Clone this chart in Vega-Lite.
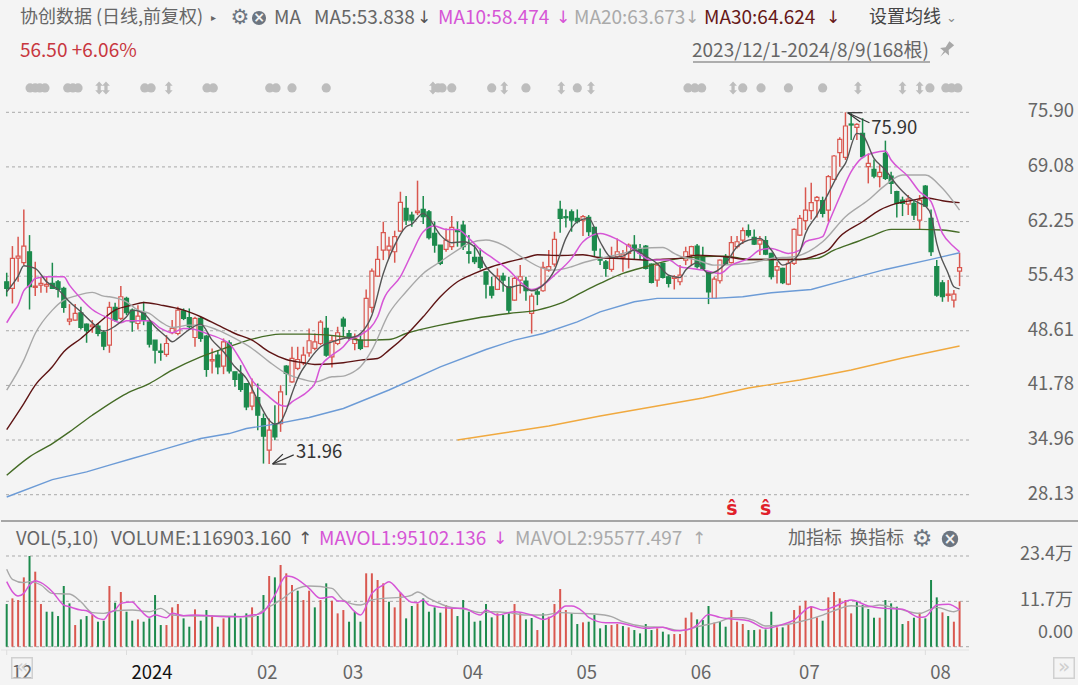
{
"$schema":"https://vega.github.io/schema/vega-lite/v6.json",
"padding":0,"background":"#f4f4f4","spacing":0,"bounds":"flush",
"config":{"view":{"stroke":null},"text":{"font":"Noto Sans CJK SC"}},
"datasets":{
"candles":[
{"i":0,"o":54.73,"h":55.86,"l":52.9,"c":53.9,"dir":"down"},{"i":1,"o":53.9,"h":59.19,"l":52.02,"c":57.65,"dir":"up"},{"i":2,"o":57.69,"h":60.36,"l":54.73,"c":57.94,"dir":"up"},{"i":3,"o":57.11,"h":63.77,"l":56.81,"c":59.19,"dir":"up"},{"i":4,"o":58.48,"h":60.56,"l":51.27,"c":54.11,"dir":"down"},{"i":5,"o":54.02,"h":57.23,"l":52.94,"c":54.19,"dir":"up"},{"i":6,"o":54.32,"h":55.36,"l":53.36,"c":54.52,"dir":"up"},{"i":7,"o":54.19,"h":55.36,"l":53.36,"c":54.4,"dir":"up"},{"i":8,"o":54.52,"h":57.11,"l":53.9,"c":53.9,"dir":"down"},{"i":9,"o":54.73,"h":54.94,"l":52.77,"c":53.77,"dir":"down"},
{"i":10,"o":53.9,"h":54.11,"l":50.86,"c":51.52,"dir":"down"},{"i":11,"o":49.81,"h":51.94,"l":49.31,"c":50.06,"dir":"up"},{"i":12,"o":49.94,"h":51.94,"l":49.86,"c":50.77,"dir":"up"},{"i":13,"o":50.86,"h":51.61,"l":48.77,"c":49.02,"dir":"down"},{"i":14,"o":49.44,"h":49.52,"l":47.11,"c":48.61,"dir":"down"},{"i":15,"o":49.11,"h":49.94,"l":48.36,"c":49.31,"dir":"up"},{"i":16,"o":49.19,"h":49.52,"l":47.94,"c":48.27,"dir":"down"},{"i":17,"o":48.4,"h":48.69,"l":46.19,"c":46.69,"dir":"down"},{"i":18,"o":46.81,"h":52.23,"l":45.86,"c":51.52,"dir":"up"},{"i":19,"o":51.52,"h":52.11,"l":49.73,"c":49.94,"dir":"down"},
{"i":20,"o":50.15,"h":54.19,"l":49.94,"c":52.86,"dir":"up"},{"i":21,"o":52.65,"h":52.86,"l":50.56,"c":50.86,"dir":"down"},{"i":22,"o":51.19,"h":51.4,"l":48.48,"c":49.73,"dir":"down"},{"i":23,"o":49.52,"h":51.81,"l":48.77,"c":50.44,"dir":"up"},{"i":24,"o":50.86,"h":52.23,"l":49.31,"c":50.02,"dir":"down"},{"i":25,"o":49.73,"h":49.94,"l":46.52,"c":46.94,"dir":"down"},{"i":26,"o":47.44,"h":47.44,"l":44.52,"c":46.19,"dir":"down"},{"i":27,"o":46.06,"h":47.02,"l":44.86,"c":45.9,"dir":"down"},{"i":28,"o":45.65,"h":48.07,"l":45.36,"c":47.02,"dir":"up"},{"i":29,"o":48.36,"h":49.94,"l":48.19,"c":48.9,"dir":"up"},
{"i":30,"o":48.27,"h":51.61,"l":48.06,"c":51.19,"dir":"up"},{"i":31,"o":51.11,"h":51.4,"l":49.94,"c":50.15,"dir":"down"},{"i":32,"o":50.27,"h":51.4,"l":48.69,"c":49.11,"dir":"down"},{"i":33,"o":47.77,"h":50.36,"l":46.61,"c":50.15,"dir":"up"},{"i":34,"o":50.15,"h":50.36,"l":47.23,"c":47.65,"dir":"down"},{"i":35,"o":47.94,"h":48.07,"l":42.86,"c":43.77,"dir":"down"},{"i":36,"o":44.86,"h":46.4,"l":43.27,"c":45.02,"dir":"up"},{"i":37,"o":45.56,"h":46.19,"l":43.19,"c":44.11,"dir":"down"},{"i":38,"o":44.19,"h":47.65,"l":43.19,"c":47.23,"dir":"up"},{"i":39,"o":47.11,"h":47.44,"l":43.27,"c":43.61,"dir":"down"},
{"i":40,"o":43.48,"h":43.48,"l":41.61,"c":42.52,"dir":"down"},{"i":41,"o":43.19,"h":44.31,"l":40.98,"c":41.27,"dir":"down"},{"i":42,"o":42.02,"h":42.02,"l":38.69,"c":39.11,"dir":"down"},{"i":43,"o":39.19,"h":42.65,"l":38.69,"c":40.86,"dir":"up"},{"i":44,"o":40.27,"h":42.02,"l":36.19,"c":38.06,"dir":"down"},{"i":45,"o":37.65,"h":38.27,"l":32.02,"c":35.44,"dir":"down"},{"i":46,"o":33.69,"h":37.65,"l":31.96,"c":36.19,"dir":"up"},{"i":47,"o":36.94,"h":39.31,"l":34.94,"c":35.36,"dir":"down"},{"i":48,"o":37.02,"h":41.81,"l":35.98,"c":40.98,"dir":"up"},{"i":49,"o":44.19,"h":44.31,"l":40.56,"c":43.27,"dir":"down"},
{"i":50,"o":42.23,"h":46.61,"l":42.11,"c":45.15,"dir":"up"},{"i":51,"o":43.9,"h":46.61,"l":43.69,"c":45.02,"dir":"up"},{"i":52,"o":44.61,"h":46.61,"l":44.31,"c":45.56,"dir":"up"},{"i":53,"o":45.86,"h":48.9,"l":45.36,"c":47.36,"dir":"up"},{"i":54,"o":46.4,"h":48.27,"l":46.19,"c":47.23,"dir":"up"},{"i":55,"o":47.02,"h":49.94,"l":46.81,"c":49.69,"dir":"up"},{"i":56,"o":48.9,"h":50.44,"l":45.36,"c":45.56,"dir":"down"},{"i":57,"o":45.36,"h":48.06,"l":44.02,"c":47.36,"dir":"up"},{"i":58,"o":47.02,"h":49.11,"l":46.81,"c":48.36,"dir":"up"},{"i":59,"o":50.06,"h":50.36,"l":47.86,"c":49.19,"dir":"down"},
{"i":60,"o":48.27,"h":48.69,"l":47.44,"c":47.86,"dir":"down"},{"i":61,"o":47.02,"h":48.27,"l":46.19,"c":47.65,"dir":"up"},{"i":62,"o":47.44,"h":48.27,"l":46.19,"c":46.4,"dir":"down"},{"i":63,"o":46.61,"h":53.77,"l":46.61,"c":52.65,"dir":"up"},{"i":64,"o":51.52,"h":56.4,"l":50.86,"c":56.06,"dir":"up"},{"i":65,"o":55.44,"h":59.19,"l":55.36,"c":57.52,"dir":"up"},{"i":66,"o":58.69,"h":62.23,"l":57.44,"c":60.86,"dir":"up"},{"i":67,"o":58.69,"h":60.36,"l":57.65,"c":59.19,"dir":"up"},{"i":68,"o":58.48,"h":61.11,"l":57.11,"c":60.36,"dir":"up"},{"i":69,"o":61.06,"h":65.98,"l":60.98,"c":64.65,"dir":"up"},
{"i":70,"o":63.9,"h":65.44,"l":61.81,"c":62.44,"dir":"down"},{"i":71,"o":63.06,"h":63.48,"l":61.61,"c":62.44,"dir":"down"},{"i":72,"o":63.36,"h":67.36,"l":63.06,"c":63.56,"dir":"up"},{"i":73,"o":63.77,"h":65.44,"l":61.94,"c":62.86,"dir":"down"},{"i":74,"o":63.48,"h":63.69,"l":60.02,"c":60.23,"dir":"down"},{"i":75,"o":60.77,"h":62.23,"l":58.36,"c":59.31,"dir":"down"},{"i":76,"o":59.31,"h":59.31,"l":56.81,"c":57.02,"dir":"down"},{"i":77,"o":58.77,"h":61.4,"l":58.48,"c":59.94,"dir":"up"},{"i":78,"o":59.11,"h":62.94,"l":58.69,"c":61.52,"dir":"up"},{"i":79,"o":61.19,"h":62.23,"l":59.11,"c":60.98,"dir":"down"},
{"i":80,"o":61.81,"h":62.36,"l":58.69,"c":59.11,"dir":"down"},{"i":81,"o":58.48,"h":60.56,"l":57.02,"c":58.27,"dir":"down"},{"i":82,"o":57.77,"h":59.31,"l":56.94,"c":57.23,"dir":"down"},{"i":83,"o":57.77,"h":58.9,"l":56.27,"c":56.52,"dir":"down"},{"i":84,"o":55.98,"h":55.98,"l":52.65,"c":54.44,"dir":"down"},{"i":85,"o":54.11,"h":55.36,"l":52.65,"c":53.06,"dir":"down"},{"i":86,"o":53.77,"h":56.4,"l":53.69,"c":55.44,"dir":"up"},{"i":87,"o":55.44,"h":55.86,"l":53.48,"c":54.94,"dir":"down"},{"i":88,"o":54.11,"h":55.36,"l":50.77,"c":51.19,"dir":"down"},{"i":89,"o":52.44,"h":55.36,"l":52.36,"c":55.15,"dir":"up"},
{"i":90,"o":54.94,"h":56.81,"l":53.27,"c":55.36,"dir":"up"},{"i":91,"o":54.81,"h":55.36,"l":52.36,"c":53.61,"dir":"down"},{"i":92,"o":50.77,"h":53.27,"l":48.27,"c":52.94,"dir":"up"},{"i":93,"o":53.48,"h":53.77,"l":51.81,"c":53.19,"dir":"down"},{"i":94,"o":53.61,"h":57.23,"l":53.48,"c":56.52,"dir":"up"},{"i":95,"o":56.19,"h":58.69,"l":55.98,"c":56.61,"dir":"up"},{"i":96,"o":56.94,"h":60.98,"l":56.61,"c":60.02,"dir":"up"},{"i":97,"o":63.77,"h":64.86,"l":60.86,"c":62.65,"dir":"down"},{"i":98,"o":62.86,"h":63.77,"l":61.52,"c":62.73,"dir":"down"},{"i":99,"o":63.48,"h":63.77,"l":60.98,"c":62.44,"dir":"down"},
{"i":100,"o":62.65,"h":63.77,"l":62.02,"c":62.23,"dir":"down"},{"i":101,"o":62.44,"h":63.06,"l":60.44,"c":62.86,"dir":"up"},{"i":102,"o":62.77,"h":63.06,"l":60.44,"c":60.98,"dir":"down"},{"i":103,"o":61.52,"h":61.61,"l":57.94,"c":58.69,"dir":"down"},{"i":104,"o":57.77,"h":58.9,"l":56.81,"c":57.44,"dir":"down"},{"i":105,"o":57.23,"h":57.44,"l":55.36,"c":56.4,"dir":"down"},{"i":106,"o":56.27,"h":59.11,"l":55.98,"c":57.77,"dir":"up"},{"i":107,"o":57.86,"h":60.15,"l":57.65,"c":58.48,"dir":"up"},{"i":108,"o":57.77,"h":58.69,"l":55.98,"c":58.19,"dir":"up"},{"i":109,"o":58.27,"h":59.52,"l":56.4,"c":59.31,"dir":"up"},
{"i":110,"o":59.31,"h":60.56,"l":57.52,"c":58.69,"dir":"down"},{"i":111,"o":58.77,"h":59.44,"l":57.44,"c":58.27,"dir":"down"},{"i":112,"o":59.19,"h":59.31,"l":56.27,"c":56.4,"dir":"down"},{"i":113,"o":56.94,"h":57.02,"l":54.52,"c":54.65,"dir":"down"},{"i":114,"o":54.94,"h":57.11,"l":54.11,"c":56.81,"dir":"up"},{"i":115,"o":57.02,"h":57.11,"l":55.15,"c":55.27,"dir":"down"},{"i":116,"o":55.36,"h":55.56,"l":54.02,"c":54.52,"dir":"down"},{"i":117,"o":55.15,"h":55.56,"l":53.77,"c":55.36,"dir":"up"},{"i":118,"o":54.73,"h":56.81,"l":54.31,"c":55.56,"dir":"up"},{"i":119,"o":57.44,"h":59.11,"l":56.81,"c":58.48,"dir":"up"},
{"i":120,"o":58.06,"h":59.23,"l":56.69,"c":59.11,"dir":"up"},{"i":121,"o":59.19,"h":59.44,"l":56.4,"c":56.61,"dir":"down"},{"i":122,"o":57.86,"h":59.11,"l":56.19,"c":56.4,"dir":"down"},{"i":123,"o":55.98,"h":55.98,"l":51.94,"c":53.48,"dir":"down"},{"i":124,"o":52.65,"h":55.36,"l":52.65,"c":55.06,"dir":"up"},{"i":125,"o":54.86,"h":57.52,"l":54.52,"c":57.44,"dir":"up"},{"i":126,"o":57.86,"h":58.19,"l":56.94,"c":56.94,"dir":"down"},{"i":127,"o":57.11,"h":60.44,"l":57.02,"c":59.61,"dir":"up"},{"i":128,"o":59.11,"h":60.44,"l":58.9,"c":59.73,"dir":"up"},{"i":129,"o":59.94,"h":61.52,"l":59.44,"c":61.11,"dir":"up"},
{"i":130,"o":61.11,"h":61.9,"l":60.27,"c":60.56,"dir":"down"},{"i":131,"o":60.27,"h":61.27,"l":59.31,"c":59.44,"dir":"down"},{"i":132,"o":59.44,"h":60.44,"l":58.06,"c":59.94,"dir":"up"},{"i":133,"o":59.86,"h":60.44,"l":58.06,"c":58.19,"dir":"down"},{"i":134,"o":58.27,"h":58.36,"l":55.02,"c":55.36,"dir":"down"},{"i":135,"o":56.19,"h":57.23,"l":54.52,"c":56.61,"dir":"up"},{"i":136,"o":56.4,"h":56.48,"l":54.44,"c":54.61,"dir":"down"},{"i":137,"o":54.44,"h":57.44,"l":54.31,"c":57.02,"dir":"up"},{"i":138,"o":57.02,"h":61.4,"l":56.81,"c":61.27,"dir":"up"},{"i":139,"o":60.56,"h":63.06,"l":60.44,"c":62.65,"dir":"up"},
{"i":140,"o":62.36,"h":66.52,"l":61.19,"c":63.69,"dir":"up"},{"i":141,"o":63.61,"h":67.11,"l":62.52,"c":64.61,"dir":"up"},{"i":142,"o":64.86,"h":65.44,"l":62.77,"c":65.27,"dir":"up"},{"i":143,"o":64.86,"h":65.36,"l":62.77,"c":63.27,"dir":"down"},{"i":144,"o":63.69,"h":68.06,"l":62.23,"c":67.86,"dir":"up"},{"i":145,"o":67.52,"h":70.56,"l":67.44,"c":70.44,"dir":"up"},{"i":146,"o":70.86,"h":72.77,"l":69.11,"c":72.52,"dir":"up"},{"i":147,"o":70.27,"h":75.9,"l":69.94,"c":74.19,"dir":"up"},{"i":148,"o":74.44,"h":75.77,"l":72.44,"c":74.31,"dir":"down"},{"i":149,"o":74.02,"h":74.52,"l":72.44,"c":74.4,"dir":"up"},
{"i":150,"o":73.27,"h":75.15,"l":70.15,"c":70.36,"dir":"down"},{"i":151,"o":69.11,"h":70.77,"l":67.02,"c":69.52,"dir":"up"},{"i":152,"o":68.77,"h":70.02,"l":67.65,"c":67.94,"dir":"down"},{"i":153,"o":67.86,"h":69.31,"l":66.52,"c":68.4,"dir":"up"},{"i":154,"o":70.77,"h":72.36,"l":67.44,"c":67.65,"dir":"down"},{"i":155,"o":67.94,"h":68.48,"l":65.69,"c":67.02,"dir":"down"},{"i":156,"o":65.98,"h":66.11,"l":62.77,"c":64.52,"dir":"down"},{"i":157,"o":64.94,"h":65.36,"l":62.94,"c":64.52,"dir":"down"},{"i":158,"o":64.44,"h":65.56,"l":63.06,"c":65.06,"dir":"up"},{"i":159,"o":64.52,"h":64.94,"l":62.44,"c":63.06,"dir":"down"},
{"i":160,"o":62.44,"h":65.56,"l":61.27,"c":64.94,"dir":"up"},{"i":161,"o":66.69,"h":66.81,"l":64.11,"c":64.19,"dir":"down"},{"i":162,"o":62.65,"h":63.77,"l":57.94,"c":58.48,"dir":"down"},{"i":163,"o":56.61,"h":57.44,"l":52.86,"c":53.06,"dir":"down"},{"i":164,"o":54.61,"h":54.94,"l":52.23,"c":52.86,"dir":"down"},{"i":165,"o":53.02,"h":54.94,"l":52.23,"c":53.19,"dir":"up"},{"i":166,"o":52.44,"h":53.69,"l":51.52,"c":53.19,"dir":"up"},{"i":167,"o":56.06,"h":58.36,"l":54.19,"c":56.5,"dir":"up"}
],
"ma5":[{"i":0,"v":53.48},{"i":2,"v":55.44},{"i":3,"v":56.73},{"i":5,"v":56.4},{"i":7,"v":54.73},{"i":9,"v":53.77},{"i":11,"v":52.23},{"i":13,"v":50.98},{"i":15,"v":49.61},{"i":17,"v":48.56},{"i":19,"v":49.19},{"i":21,"v":50.36},{"i":22,"v":51.19},{"i":24,"v":50.77},{"i":26,"v":49.11},{"i":28,"v":47.86},{"i":29,"v":47.23},{"i":30,"v":47.65},{"i":32,"v":48.77},{"i":34,"v":49.44},{"i":36,"v":47.44},{"i":38,"v":45.98},{"i":40,"v":44.11},{"i":42,"v":42.65},{"i":44,"v":39.94},{"i":46,"v":37.44},{"i":47,"v":36.94},{"i":48,"v":37.23},{"i":49,"v":38.69},{"i":50,"v":40.77},{"i":51,"v":42.65},{"i":53,"v":44.94},{"i":55,"v":46.61},{"i":57,"v":47.23},{"i":59,"v":47.65},{"i":61,"v":47.86},{"i":62,"v":48.27},{"i":64,"v":50.56},{"i":66,"v":55.77},{"i":68,"v":59.31},{"i":70,"v":61.61},{"i":71,"v":61.94},{"i":73,"v":63.27},{"i":74,"v":62.65},{"i":76,"v":60.56},{"i":78,"v":59.61},{"i":80,"v":59.73},{"i":82,"v":59.11},{"i":84,"v":56.61},{"i":86,"v":55.15},{"i":88,"v":54.02},{"i":90,"v":54.31},{"i":92,"v":53.61},{"i":94,"v":54.31},{"i":96,"v":56.19},{"i":98,"v":60.15},{"i":100,"v":62.23},{"i":102,"v":62.65},{"i":104,"v":59.73},{"i":106,"v":57.77},{"i":108,"v":57.94},{"i":110,"v":58.69},{"i":112,"v":57.94},{"i":114,"v":57.02},{"i":116,"v":55.56},{"i":118,"v":55.27},{"i":119,"v":56.19},{"i":120,"v":56.81},{"i":121,"v":57.11},{"i":123,"v":55.77},{"i":126,"v":57.02},{"i":128,"v":59.11},{"i":130,"v":59.94},{"i":132,"v":60.15},{"i":134,"v":58.69},{"i":136,"v":56.81},{"i":137,"v":57.02},{"i":139,"v":58.48},{"i":140,"v":60.77},{"i":142,"v":63.06},{"i":144,"v":65.77},{"i":146,"v":68.48},{"i":147,"v":69.52},{"i":149,"v":73.27},{"i":150,"v":73.06},{"i":152,"v":70.15},{"i":154,"v":68.69},{"i":156,"v":66.81},{"i":158,"v":65.36},{"i":160,"v":64.52},{"i":161,"v":64.19},{"i":162,"v":63.06},{"i":163,"v":59.52},{"i":165,"v":55.77},{"i":166,"v":54.11},{"i":167,"v":53.84}],
"ma10":[{"i":0,"v":49.61},{"i":1,"v":50.77},{"i":2,"v":51.82},{"i":3,"v":53.61},{"i":4,"v":54.31},{"i":5,"v":55.15},{"i":7,"v":55.36},{"i":10,"v":55.36},{"i":11,"v":54.31},{"i":13,"v":52.65},{"i":15,"v":51.27},{"i":18,"v":50.15},{"i":20,"v":49.61},{"i":21,"v":49.86},{"i":25,"v":49.86},{"i":27,"v":48.9},{"i":29,"v":48.36},{"i":31,"v":48.9},{"i":33,"v":48.77},{"i":35,"v":48.27},{"i":38,"v":47.44},{"i":39,"v":47.02},{"i":41,"v":44.94},{"i":43,"v":42.44},{"i":46,"v":40.36},{"i":48,"v":39.31},{"i":49,"v":39.19},{"i":50,"v":39.73},{"i":53,"v":41.19},{"i":54,"v":42.02},{"i":55,"v":44.11},{"i":57,"v":45.56},{"i":59,"v":46.61},{"i":60,"v":47.44},{"i":62,"v":48.06},{"i":65,"v":50.36},{"i":66,"v":52.44},{"i":69,"v":55.36},{"i":71,"v":58.27},{"i":73,"v":60.98},{"i":75,"v":61.69},{"i":77,"v":61.27},{"i":79,"v":61.27},{"i":81,"v":60.15},{"i":83,"v":58.77},{"i":85,"v":57.77},{"i":88,"v":56.19},{"i":90,"v":54.73},{"i":92,"v":53.77},{"i":94,"v":54.31},{"i":96,"v":55.56},{"i":99,"v":57.65},{"i":101,"v":59.73},{"i":104,"v":60.77},{"i":107,"v":60.02},{"i":110,"v":58.69},{"i":113,"v":57.44},{"i":116,"v":57.44},{"i":118,"v":56.61},{"i":120,"v":56.4},{"i":122,"v":56.19},{"i":125,"v":55.77},{"i":127,"v":56.81},{"i":130,"v":57.65},{"i":132,"v":58.69},{"i":134,"v":58.9},{"i":137,"v":58.27},{"i":139,"v":58.69},{"i":140,"v":59.73},{"i":143,"v":60.36},{"i":144,"v":62.02},{"i":146,"v":65.36},{"i":148,"v":68.48},{"i":150,"v":70.27},{"i":152,"v":70.86},{"i":154,"v":71.07},{"i":155,"v":69.94},{"i":158,"v":67.86},{"i":160,"v":65.98},{"i":162,"v":64.73},{"i":164,"v":60.77},{"i":166,"v":59.11},{"i":167,"v":58.47}],
"ma20":[{"i":0,"v":41.19},{"i":3,"v":44.94},{"i":5,"v":48.27},{"i":8,"v":51.19},{"i":10,"v":52.44},{"i":12,"v":52.94},{"i":15,"v":53.4},{"i":17,"v":52.94},{"i":18,"v":52.86},{"i":21,"v":52.23},{"i":23,"v":51.19},{"i":25,"v":50.77},{"i":27,"v":49.73},{"i":29,"v":49.02},{"i":32,"v":49.31},{"i":34,"v":49.31},{"i":37,"v":48.69},{"i":40,"v":47.65},{"i":43,"v":46.4},{"i":46,"v":44.73},{"i":49,"v":43.27},{"i":52,"v":42.52},{"i":54,"v":42.23},{"i":57,"v":42.86},{"i":59,"v":42.94},{"i":60,"v":43.19},{"i":62,"v":44.11},{"i":64,"v":46.19},{"i":67,"v":50.77},{"i":70,"v":53.48},{"i":73,"v":55.77},{"i":76,"v":57.23},{"i":79,"v":58.69},{"i":81,"v":59.52},{"i":84,"v":59.94},{"i":87,"v":59.31},{"i":90,"v":57.94},{"i":94,"v":56.4},{"i":96,"v":56.19},{"i":99,"v":56.61},{"i":101,"v":57.11},{"i":104,"v":57.65},{"i":108,"v":58.27},{"i":111,"v":58.9},{"i":115,"v":59.02},{"i":117,"v":58.27},{"i":118,"v":57.94},{"i":121,"v":57.44},{"i":124,"v":56.81},{"i":130,"v":57.02},{"i":134,"v":57.65},{"i":138,"v":57.86},{"i":143,"v":59.73},{"i":147,"v":62.86},{"i":151,"v":64.94},{"i":154,"v":66.81},{"i":157,"v":68.06},{"i":161,"v":68.06},{"i":164,"v":66.4},{"i":167,"v":63.67}],
"ma30":[{"i":0,"v":36.27},{"i":3,"v":39.52},{"i":5,"v":41.81},{"i":8,"v":44.11},{"i":10,"v":45.98},{"i":13,"v":47.65},{"i":16,"v":49.52},{"i":19,"v":51.19},{"i":22,"v":51.82},{"i":24,"v":52.15},{"i":27,"v":51.82},{"i":31,"v":51.19},{"i":34,"v":50.36},{"i":37,"v":49.31},{"i":40,"v":48.27},{"i":43,"v":47.44},{"i":46,"v":45.98},{"i":49,"v":45.02},{"i":52,"v":44.61},{"i":54,"v":44.4},{"i":59,"v":44.61},{"i":62,"v":44.94},{"i":65,"v":45.15},{"i":67,"v":46.19},{"i":70,"v":48.06},{"i":73,"v":50.36},{"i":76,"v":52.86},{"i":79,"v":54.73},{"i":82,"v":55.77},{"i":85,"v":56.61},{"i":88,"v":57.23},{"i":91,"v":57.73},{"i":93,"v":58.11},{"i":97,"v":58.02},{"i":101,"v":58.11},{"i":104,"v":57.73},{"i":108,"v":57.61},{"i":112,"v":57.44},{"i":115,"v":57.56},{"i":118,"v":57.65},{"i":121,"v":58.06},{"i":126,"v":57.86},{"i":130,"v":57.52},{"i":134,"v":57.52},{"i":139,"v":57.52},{"i":142,"v":58.06},{"i":144,"v":58.69},{"i":146,"v":60.36},{"i":150,"v":62.23},{"i":153,"v":63.69},{"i":156,"v":64.52},{"i":159,"v":64.94},{"i":161,"v":65.23},{"i":164,"v":64.86},{"i":167,"v":64.62}],
"ma60":[{"i":0,"v":30.56},{"i":4,"v":32.86},{"i":8,"v":34.52},{"i":11,"v":35.98},{"i":15,"v":38.06},{"i":21,"v":40.77},{"i":25,"v":42.02},{"i":29,"v":43.69},{"i":34,"v":45.36},{"i":39,"v":46.61},{"i":43,"v":47.56},{"i":48,"v":48.19},{"i":53,"v":48.19},{"i":59,"v":47.86},{"i":62,"v":47.44},{"i":67,"v":47.52},{"i":70,"v":48.27},{"i":76,"v":49.31},{"i":82,"v":50.15},{"i":88,"v":50.77},{"i":93,"v":51.19},{"i":97,"v":52.02},{"i":101,"v":53.48},{"i":104,"v":54.52},{"i":108,"v":55.77},{"i":112,"v":56.61},{"i":118,"v":57.65},{"i":126,"v":57.94},{"i":130,"v":57.52},{"i":139,"v":57.52},{"i":142,"v":57.65},{"i":145,"v":58.69},{"i":149,"v":59.73},{"i":152,"v":60.56},{"i":155,"v":61.27},{"i":160,"v":61.27},{"i":164,"v":61.19},{"i":167,"v":60.9}],
"ma120":[{"i":0,"v":27.84},{"i":8,"v":30.02},{"i":14,"v":30.98},{"i":18,"v":31.82},{"i":22,"v":32.65},{"i":25,"v":33.27},{"i":29,"v":34.11},{"i":34,"v":35.15},{"i":39,"v":35.77},{"i":42,"v":36.4},{"i":47,"v":36.94},{"i":53,"v":37.77},{"i":59,"v":38.9},{"i":67,"v":41.21},{"i":76,"v":44.09},{"i":84,"v":46.27},{"i":89,"v":47.44},{"i":94,"v":48.27},{"i":100,"v":49.73},{"i":104,"v":50.98},{"i":110,"v":52.23},{"i":114,"v":52.65},{"i":118,"v":52.65},{"i":124,"v":52.65},{"i":129,"v":52.86},{"i":134,"v":53.36},{"i":141,"v":53.77},{"i":147,"v":54.94},{"i":154,"v":56.27},{"i":162,"v":57.52},{"i":167,"v":58.36}],
"ma250":[{"i":79,"v":34.96},{"i":87,"v":35.84},{"i":95,"v":36.71},{"i":104,"v":37.96},{"i":113,"v":39.09},{"i":122,"v":40.21},{"i":130,"v":41.46},{"i":139,"v":42.46},{"i":148,"v":43.71},{"i":157,"v":45.21},{"i":167,"v":46.71}],
"vols":[{"i":0,"v":11.01,"dir":"down"},{"i":1,"v":12.47,"dir":"up"},{"i":2,"v":12.04,"dir":"up"},{"i":3,"v":17.89,"dir":"up"},{"i":4,"v":23.4,"dir":"down"},{"i":5,"v":19.36,"dir":"up"},{"i":6,"v":11.01,"dir":"up"},{"i":7,"v":9.03,"dir":"down"},{"i":8,"v":9.03,"dir":"down"},{"i":9,"v":7.91,"dir":"down"},{"i":10,"v":15.66,"dir":"down"},{"i":11,"v":11.18,"dir":"down"},{"i":12,"v":5.59,"dir":"up"},{"i":13,"v":7.05,"dir":"down"},{"i":14,"v":7.91,"dir":"down"},{"i":15,"v":8.17,"dir":"up"},{"i":16,"v":6.45,"dir":"down"},{"i":17,"v":6.71,"dir":"down"},{"i":18,"v":15.66,"dir":"up"},{"i":19,"v":11.36,"dir":"down"},{"i":20,"v":14.11,"dir":"up"},{"i":21,"v":9.03,"dir":"down"},{"i":22,"v":6.71,"dir":"down"},{"i":23,"v":7.05,"dir":"up"},{"i":24,"v":6.45,"dir":"down"},{"i":25,"v":7.31,"dir":"down"},{"i":26,"v":13.33,"dir":"down"},{"i":27,"v":5.59,"dir":"down"},{"i":28,"v":5.59,"dir":"up"},{"i":29,"v":10.15,"dir":"up"},{"i":30,"v":11.01,"dir":"up"},{"i":31,"v":7.31,"dir":"down"},{"i":32,"v":5.16,"dir":"down"},{"i":33,"v":9.64,"dir":"up"},{"i":34,"v":6.71,"dir":"down"},{"i":35,"v":9.46,"dir":"down"},{"i":36,"v":8.17,"dir":"up"},{"i":37,"v":5.16,"dir":"down"},{"i":38,"v":7.31,"dir":"up"},{"i":39,"v":7.91,"dir":"down"},{"i":40,"v":8.6,"dir":"down"},{"i":41,"v":7.31,"dir":"down"},{"i":42,"v":8.6,"dir":"down"},{"i":43,"v":10.15,"dir":"up"},{"i":44,"v":7.91,"dir":"down"},{"i":45,"v":13.33,"dir":"down"},{"i":46,"v":18.24,"dir":"up"},{"i":47,"v":17.89,"dir":"down"},{"i":48,"v":21.08,"dir":"up"},{"i":49,"v":18.93,"dir":"up"},{"i":50,"v":15.92,"dir":"up"},{"i":51,"v":14.45,"dir":"down"},{"i":52,"v":12.04,"dir":"up"},{"i":53,"v":14.45,"dir":"up"},{"i":54,"v":10.15,"dir":"down"},{"i":55,"v":12.04,"dir":"up"},{"i":56,"v":16.35,"dir":"down"},{"i":57,"v":11.87,"dir":"up"},{"i":58,"v":8.6,"dir":"up"},{"i":59,"v":9.46,"dir":"up"},{"i":60,"v":6.45,"dir":"down"},{"i":61,"v":9.03,"dir":"down"},{"i":62,"v":6.45,"dir":"down"},{"i":63,"v":18.93,"dir":"up"},{"i":64,"v":18.93,"dir":"up"},{"i":65,"v":17.21,"dir":"up"},{"i":66,"v":16.35,"dir":"up"},{"i":67,"v":11.61,"dir":"down"},{"i":68,"v":10.15,"dir":"up"},{"i":69,"v":13.94,"dir":"up"},{"i":70,"v":7.31,"dir":"down"},{"i":71,"v":10.5,"dir":"down"},{"i":72,"v":11.18,"dir":"up"},{"i":73,"v":12.47,"dir":"down"},{"i":74,"v":9.03,"dir":"down"},{"i":75,"v":10.15,"dir":"down"},{"i":76,"v":8.78,"dir":"down"},{"i":77,"v":10.75,"dir":"up"},{"i":78,"v":9.89,"dir":"up"},{"i":79,"v":7.91,"dir":"down"},{"i":80,"v":12.04,"dir":"down"},{"i":81,"v":9.03,"dir":"down"},{"i":82,"v":6.45,"dir":"down"},{"i":83,"v":6.71,"dir":"down"},{"i":84,"v":11.01,"dir":"down"},{"i":85,"v":7.57,"dir":"down"},{"i":86,"v":8.6,"dir":"up"},{"i":87,"v":8.17,"dir":"down"},{"i":88,"v":8.6,"dir":"down"},{"i":89,"v":11.01,"dir":"up"},{"i":90,"v":8.6,"dir":"up"},{"i":91,"v":7.05,"dir":"down"},{"i":92,"v":7.4,"dir":"down"},{"i":93,"v":4.3,"dir":"up"},{"i":94,"v":8.6,"dir":"down"},{"i":95,"v":7.74,"dir":"up"},{"i":96,"v":11.01,"dir":"up"},{"i":97,"v":14.88,"dir":"up"},{"i":98,"v":9.46,"dir":"up"},{"i":99,"v":8.6,"dir":"down"},{"i":100,"v":5.85,"dir":"down"},{"i":101,"v":6.28,"dir":"up"},{"i":102,"v":6.45,"dir":"down"},{"i":103,"v":8.17,"dir":"down"},{"i":104,"v":4.73,"dir":"down"},{"i":105,"v":5.59,"dir":"down"},{"i":106,"v":5.59,"dir":"up"},{"i":107,"v":5.85,"dir":"up"},{"i":108,"v":5.33,"dir":"down"},{"i":109,"v":4.99,"dir":"up"},{"i":110,"v":4.3,"dir":"down"},{"i":111,"v":3.44,"dir":"down"},{"i":112,"v":5.85,"dir":"down"},{"i":113,"v":4.3,"dir":"down"},{"i":114,"v":4.73,"dir":"up"},{"i":115,"v":3.87,"dir":"down"},{"i":116,"v":3.18,"dir":"down"},{"i":117,"v":3.27,"dir":"up"},{"i":118,"v":3.27,"dir":"up"},{"i":119,"v":7.48,"dir":"up"},{"i":120,"v":8.86,"dir":"up"},{"i":121,"v":7.05,"dir":"down"},{"i":122,"v":6.88,"dir":"down"},{"i":123,"v":10.5,"dir":"down"},{"i":124,"v":6.19,"dir":"up"},{"i":125,"v":6.45,"dir":"down"},{"i":126,"v":5.16,"dir":"down"},{"i":127,"v":9.46,"dir":"up"},{"i":128,"v":6.45,"dir":"up"},{"i":129,"v":5.85,"dir":"up"},{"i":130,"v":4.3,"dir":"down"},{"i":131,"v":4.3,"dir":"down"},{"i":132,"v":4.47,"dir":"up"},{"i":133,"v":4.47,"dir":"down"},{"i":134,"v":9.03,"dir":"down"},{"i":135,"v":4.99,"dir":"up"},{"i":136,"v":4.99,"dir":"down"},{"i":137,"v":5.59,"dir":"up"},{"i":138,"v":9.46,"dir":"up"},{"i":139,"v":10.58,"dir":"up"},{"i":140,"v":11.87,"dir":"up"},{"i":141,"v":10.5,"dir":"up"},{"i":142,"v":7.57,"dir":"up"},{"i":143,"v":6.71,"dir":"down"},{"i":144,"v":12.73,"dir":"up"},{"i":145,"v":14.11,"dir":"up"},{"i":146,"v":12.47,"dir":"up"},{"i":147,"v":12.04,"dir":"up"},{"i":148,"v":8.6,"dir":"up"},{"i":149,"v":11.61,"dir":"down"},{"i":150,"v":10.75,"dir":"down"},{"i":151,"v":9.72,"dir":"down"},{"i":152,"v":7.48,"dir":"down"},{"i":153,"v":7.48,"dir":"up"},{"i":154,"v":12.04,"dir":"down"},{"i":155,"v":11.18,"dir":"down"},{"i":156,"v":10.32,"dir":"down"},{"i":157,"v":5.85,"dir":"down"},{"i":158,"v":6.62,"dir":"up"},{"i":159,"v":7.48,"dir":"down"},{"i":160,"v":8.78,"dir":"up"},{"i":161,"v":7.31,"dir":"down"},{"i":162,"v":17.21,"dir":"down"},{"i":163,"v":12.73,"dir":"down"},{"i":164,"v":8.86,"dir":"up"},{"i":165,"v":7.91,"dir":"down"},{"i":166,"v":6.45,"dir":"up"},{"i":167,"v":11.69,"dir":"up"}],
"mavol1":[{"i":0,"v":16.78},{"i":1,"v":14.2},{"i":2,"v":13.08},{"i":3,"v":13.76},{"i":4,"v":15.92},{"i":5,"v":17.03},{"i":6,"v":16.52},{"i":8,"v":14.2},{"i":10,"v":10.75},{"i":11,"v":10.32},{"i":13,"v":9.46},{"i":14,"v":9.29},{"i":16,"v":7.31},{"i":17,"v":7.05},{"i":18,"v":8.78},{"i":19,"v":9.46},{"i":20,"v":11.18},{"i":22,"v":11.53},{"i":23,"v":10.15},{"i":25,"v":7.57},{"i":26,"v":8.17},{"i":28,"v":7.48},{"i":29,"v":8.6},{"i":31,"v":8.0},{"i":33,"v":8.17},{"i":36,"v":7.91},{"i":39,"v":7.74},{"i":41,"v":7.74},{"i":43,"v":8.17},{"i":44,"v":8.34},{"i":45,"v":9.03},{"i":47,"v":13.33},{"i":49,"v":18.24},{"i":50,"v":18.07},{"i":53,"v":15.06},{"i":55,"v":12.47},{"i":57,"v":12.9},{"i":58,"v":11.79},{"i":59,"v":11.79},{"i":61,"v":9.03},{"i":62,"v":8.17},{"i":64,"v":13.76},{"i":66,"v":15.92},{"i":67,"v":16.78},{"i":69,"v":13.94},{"i":71,"v":11.44},{"i":72,"v":11.36},{"i":73,"v":12.04},{"i":74,"v":10.75},{"i":78,"v":9.89},{"i":80,"v":9.89},{"i":83,"v":8.17},{"i":84,"v":9.46},{"i":86,"v":8.17},{"i":89,"v":9.03},{"i":92,"v":8.17},{"i":94,"v":7.05},{"i":96,"v":8.17},{"i":98,"v":10.5},{"i":99,"v":10.5},{"i":101,"v":9.03},{"i":102,"v":7.57},{"i":105,"v":6.19},{"i":107,"v":6.19},{"i":109,"v":5.59},{"i":112,"v":4.73},{"i":115,"v":4.99},{"i":117,"v":4.13},{"i":119,"v":4.3},{"i":121,"v":5.59},{"i":123,"v":8.34},{"i":125,"v":7.57},{"i":127,"v":7.14},{"i":130,"v":6.71},{"i":133,"v":4.73},{"i":136,"v":5.76},{"i":138,"v":6.88},{"i":141,"v":10.32},{"i":143,"v":9.46},{"i":145,"v":10.32},{"i":148,"v":12.04},{"i":151,"v":10.5},{"i":154,"v":9.89},{"i":157,"v":9.64},{"i":160,"v":7.57},{"i":161,"v":7.74},{"i":163,"v":10.75},{"i":165,"v":10.93},{"i":167,"v":9.51}],
"mavol2":[{"i":0,"v":19.96},{"i":1,"v":17.38},{"i":3,"v":16.52},{"i":4,"v":16.78},{"i":6,"v":15.92},{"i":8,"v":13.76},{"i":11,"v":13.59},{"i":13,"v":11.61},{"i":15,"v":8.78},{"i":17,"v":8.6},{"i":19,"v":9.29},{"i":22,"v":9.46},{"i":25,"v":9.03},{"i":27,"v":9.89},{"i":29,"v":8.17},{"i":33,"v":7.91},{"i":38,"v":7.91},{"i":43,"v":7.74},{"i":45,"v":9.46},{"i":48,"v":12.04},{"i":51,"v":15.06},{"i":53,"v":15.66},{"i":57,"v":15.06},{"i":59,"v":12.04},{"i":62,"v":10.75},{"i":64,"v":12.04},{"i":66,"v":12.47},{"i":69,"v":12.73},{"i":71,"v":13.33},{"i":72,"v":14.11},{"i":74,"v":12.47},{"i":77,"v":10.5},{"i":81,"v":9.46},{"i":83,"v":8.78},{"i":85,"v":9.03},{"i":88,"v":8.78},{"i":91,"v":8.17},{"i":94,"v":8.17},{"i":97,"v":8.78},{"i":100,"v":8.6},{"i":103,"v":8.43},{"i":106,"v":7.74},{"i":108,"v":6.45},{"i":112,"v":5.16},{"i":115,"v":4.99},{"i":118,"v":4.13},{"i":121,"v":5.16},{"i":125,"v":6.45},{"i":127,"v":7.48},{"i":129,"v":7.48},{"i":131,"v":6.71},{"i":133,"v":5.33},{"i":136,"v":5.59},{"i":139,"v":6.45},{"i":143,"v":8.17},{"i":145,"v":9.29},{"i":148,"v":10.58},{"i":151,"v":10.32},{"i":153,"v":10.75},{"i":156,"v":9.89},{"i":160,"v":8.6},{"i":163,"v":10.15},{"i":166,"v":9.03},{"i":167,"v":9.56}],
"blobs":[{"i":4.1},{"i":5},{"i":5.8},{"i":6.7},{"i":10.7},{"i":11.6},{"i":12.5},{"i":24.2},{"i":25.3},{"i":35.1},{"i":36.2},{"i":46.1},{"i":47.2},{"i":50},{"i":56},{"i":75.6},{"i":76.3},{"i":78},{"i":85},{"i":91},{"i":100},{"i":119.4},{"i":120.6},{"i":121.8},{"i":129},{"i":132.2},{"i":137},{"i":143},{"i":161.8},{"i":164.6},{"i":165.6},{"i":166.7}],
"arrows":[{"i":16.2},{"i":17.4},{"i":28.4},{"i":74.7},{"i":87.2},{"i":97.2},{"i":102.4},{"i":127.3},{"i":149.2},{"i":157},{"i":160}],
"grid":[{"v":75.9,"t":"75.90"},{"v":69.08,"t":"69.08"},{"v":62.25,"t":"62.25"},{"v":55.43,"t":"55.43"},{"v":48.61,"t":"48.61"},{"v":41.78,"t":"41.78"},{"v":34.96,"t":"34.96"},{"v":28.13,"t":"28.13"}],
"months":[{"i":0,"t":"12"},{"i":21,"t":"2024"},{"i":43,"t":"02"},{"i":58,"t":"03"},{"i":79,"t":"04"},{"i":99,"t":"05"},{"i":119,"t":"06"},{"i":138,"t":"07"},{"i":161,"t":"08"}]
},
"vconcat":[
{"width":1078,"height":520,"data":{"values":[{"a":1}]},"layer":[
 {"data":{"name":"grid"},"mark":{"type":"rule","color":"#a9a9a9","strokeDash":[3,3],"strokeWidth":1,"x":5,"x2":968},"encoding":{"y":{"field":"v","type":"quantitative","scale":{"domain":[24.97,89.93],"nice":false,"zero":false},"axis":null}}},
 {"encoding":{"x":{"field":"i","type":"quantitative","scale":{"domain":[-1,187.93],"nice":false,"zero":false,"padding":0},"axis":null},"y":{"field":"v","type":"quantitative","scale":{"domain":[24.97,89.93],"nice":false,"zero":false},"axis":null}},
 "layer":[
 {"data":{"name":"candles"},"mark":{"type":"rule","strokeWidth":1.5},"encoding":{"y":{"field":"h","type":"quantitative","scale":{"domain":[24.97,89.93],"nice":false,"zero":false},"axis":null},"y2":{"field":"l"},"color":{"field":"dir","type":"nominal","scale":{"domain":["up","down"],"range":["#d9574f","#1c8a4c"]},"legend":null}}},
 {"data":{"name":"candles"},"mark":{"type":"bar","size":4,"strokeWidth":1.2,"orient":"vertical"},"encoding":{"y":{"field":"o","type":"quantitative","scale":{"domain":[24.97,89.93],"nice":false,"zero":false},"axis":null},"y2":{"field":"c"},"fill":{"field":"dir","type":"nominal","scale":{"domain":["up","down"],"range":["#f4f4f4","#1c8a4c"]},"legend":null},"stroke":{"field":"dir","type":"nominal","scale":{"domain":["up","down"],"range":["#d9574f","#1c8a4c"]},"legend":null}}},
 {"data":{"name":"ma250"},"mark":{"type":"line","color":"#f0a93f","strokeWidth":1.4}},
 {"data":{"name":"ma120"},"mark":{"type":"line","color":"#6c9bd6","strokeWidth":1.4}},
 {"data":{"name":"ma60"},"mark":{"type":"line","color":"#446b25","strokeWidth":1.4,"interpolate":"monotone"}},
 {"data":{"name":"ma30"},"mark":{"type":"line","color":"#5e1414","strokeWidth":1.4,"interpolate":"monotone"}},
 {"data":{"name":"ma20"},"mark":{"type":"line","color":"#a8a8a8","strokeWidth":1.4,"interpolate":"monotone"}},
 {"data":{"name":"ma10"},"mark":{"type":"line","color":"#d655d6","strokeWidth":1.5,"interpolate":"monotone"}},
 {"data":{"name":"ma5"},"mark":{"type":"line","color":"#555555","strokeWidth":1.4,"interpolate":"monotone"}},
 {"data":{"values":[{"i":147.4,"v":75.85,"i2":151.2,"v2":74.6},{"i":147.4,"v":75.85,"i2":150,"v2":75.85},{"i":147.4,"v":75.85,"i2":149.6,"v2":74.7},{"i":46.6,"v":31.96,"i2":50.3,"v2":33.1},{"i":46.6,"v":31.96,"i2":49,"v2":31.96},{"i":46.6,"v":31.96,"i2":48.4,"v2":33.2}]},"mark":{"type":"rule","color":"#333333","strokeWidth":1.2},"encoding":{"x2":{"field":"i2"},"y2":{"field":"v2"}}},
 {"data":{"values":[{"i":151.5,"v":74.0,"t":"75.90"},{"i":50.7,"v":33.5,"t":"31.96"}]},"mark":{"type":"text","align":"left","baseline":"middle","fontSize":18.5,"color":"#333333"},"encoding":{"text":{"field":"t"}}}
 ]},
 {"data":{"name":"blobs"},"mark":{"type":"point","filled":true,"opacity":1,"color":"#bdbdbd","shape":"circle","size":85},"encoding":{"x":{"field":"i","type":"quantitative","scale":{"domain":[-1,187.93],"nice":false,"zero":false,"padding":0},"axis":null},"y":{"datum":78.94,"type":"quantitative","scale":{"domain":[24.97,89.93],"nice":false,"zero":false},"axis":null}}},
 {"data":{"name":"arrows"},"mark":{"type":"point","filled":true,"opacity":1,"color":"#bdbdbd","shape":"M0,-1L0.6,-0.35L0.25,-0.35L0.25,0.35L0.6,0.35L0,1L-0.6,0.35L-0.25,0.35L-0.25,-0.35L-0.6,-0.35Z","size":170},"encoding":{"x":{"field":"i","type":"quantitative","scale":{"domain":[-1,187.93],"nice":false,"zero":false,"padding":0},"axis":null},"y":{"datum":78.94,"type":"quantitative","scale":{"domain":[24.97,89.93],"nice":false,"zero":false},"axis":null}}},
 {"data":{"values":[{"i":127.1},{"i":133}]},"mark":{"type":"text","color":"#e0202a","font":"DejaVu Sans","fontWeight":"bold","fontSize":19,"text":"ŝ"},"encoding":{"x":{"field":"i","type":"quantitative","scale":{"domain":[-1,187.93],"nice":false,"zero":false,"padding":0},"axis":null},"y":{"datum":26.4,"type":"quantitative","scale":{"domain":[24.97,89.93],"nice":false,"zero":false},"axis":null}}},
 {"data":{"name":"grid"},"mark":{"type":"text","align":"right","baseline":"middle","fontSize":18.5,"color":"#666666","dy":-1},"encoding":{"x":{"value":1073},"y":{"field":"v","type":"quantitative","scale":{"domain":[24.97,89.93],"nice":false,"zero":false},"axis":null},"text":{"field":"t"}}},
 {"mark":{"type":"text","align":"left","baseline":"middle","fontSize":18,"color":"#666666","x":19,"y":18,"text":"协创数据 (日线,前复权)"}},
 {"mark":{"type":"text","align":"left","baseline":"middle","fontSize":10,"color":"#666666","x":210,"y":18,"text":"▸","font":"DejaVu Sans"}},
 {"mark":{"type":"text","align":"center","baseline":"middle","fontSize":21,"color":"#6c7580","x":239,"y":18,"text":"⚙","font":"DejaVu Sans"}},
 {"mark":{"type":"point","filled":true,"opacity":1,"color":"#6c7580","shape":"circle","size":200,"x":258,"y":18}},
 {"mark":{"type":"text","align":"center","baseline":"middle","fontSize":14,"fontWeight":"bold","color":"#f4f4f4","x":258,"y":18,"text":"×","font":"DejaVu Sans"}},
 {"mark":{"type":"text","align":"left","baseline":"middle","fontSize":19,"color":"#666666","x":273,"y":18,"text":"MA"}},
 {"mark":{"type":"text","align":"left","baseline":"middle","fontSize":19,"color":"#666666","x":313,"y":18,"text":"MA5:53.838"}},
 {"mark":{"type":"text","align":"left","baseline":"middle","fontSize":17,"color":"#555555","x":416,"y":18,"text":"↓","font":"DejaVu Sans"}},
 {"mark":{"type":"text","align":"left","baseline":"middle","fontSize":19,"color":"#d655d6","x":437,"y":18,"text":"MA10:58.474"}},
 {"mark":{"type":"text","align":"left","baseline":"middle","fontSize":17,"color":"#d655d6","x":555,"y":18,"text":"↓","font":"DejaVu Sans"}},
 {"mark":{"type":"text","align":"left","baseline":"middle","fontSize":19,"color":"#aaaaaa","x":573,"y":18,"text":"MA20:63.673"}},
 {"mark":{"type":"text","align":"left","baseline":"middle","fontSize":17,"color":"#aaaaaa","x":684,"y":18,"text":"↓","font":"DejaVu Sans"}},
 {"mark":{"type":"text","align":"left","baseline":"middle","fontSize":19,"color":"#661818","x":703,"y":18,"text":"MA30:64.624"}},
 {"mark":{"type":"text","align":"left","baseline":"middle","fontSize":17,"color":"#661818","x":825,"y":18,"text":"↓","font":"DejaVu Sans"}},
 {"mark":{"type":"text","align":"left","baseline":"middle","fontSize":18,"color":"#444444","x":868,"y":18,"text":"设置均线"}},
 {"mark":{"type":"text","align":"left","baseline":"middle","fontSize":13,"color":"#888888","x":945,"y":18,"text":"⌄","font":"DejaVu Sans"}},
 {"mark":{"type":"text","align":"left","baseline":"middle","fontSize":19,"color":"#c8373f","x":19,"y":51,"text":"56.50 +6.06%"}},
 {"mark":{"type":"text","align":"left","baseline":"middle","fontSize":19,"color":"#666666","x":691,"y":51,"text":"2023/12/1-2024/8/9(168根)"}},
 {"mark":{"type":"rule","color":"#666666","strokeWidth":1},"encoding":{"x":{"value":692},"x2":{"value":929},"y":{"value":62}}},
 {"mark":{"type":"point","filled":true,"opacity":1,"color":"#a8a8a8","shape":"M-0.35,-1L0.35,-1L0.22,-0.2L0.65,0.25L0.1,0.25L0,1L-0.1,0.25L-0.65,0.25L-0.22,-0.2Z","angle":40,"size":320,"x":945,"y":50}}
]},
{"width":1078,"height":165,"data":{"values":[{"a":1}]},"layer":[
 {"data":{"values":[{"v":23.4},{"v":11.7},{"v":0}]},"mark":{"type":"rule","color":"#a9a9a9","strokeDash":[3,3],"strokeWidth":1,"x":5,"x2":968},"encoding":{"y":{"field":"v","type":"quantitative","scale":{"domain":[-9.88,32.69],"nice":false,"zero":false},"axis":null}}},
 {"encoding":{"x":{"field":"i","type":"quantitative","scale":{"domain":[-1,187.93],"nice":false,"zero":false,"padding":0},"axis":null},"y":{"field":"v","type":"quantitative","scale":{"domain":[-9.88,32.69],"nice":false,"zero":false},"axis":null}},
 "layer":[
 {"data":{"name":"vols"},"mark":{"type":"bar","size":2,"orient":"vertical"},"encoding":{"y2":{"datum":0},"color":{"field":"dir","type":"nominal","scale":{"domain":["up","down"],"range":["#d9574f","#1c8a4c"]},"legend":null}}},
 {"data":{"name":"mavol2"},"mark":{"type":"line","color":"#a8a8a8","strokeWidth":1.4,"interpolate":"monotone"}},
 {"data":{"name":"mavol1"},"mark":{"type":"line","color":"#d655d6","strokeWidth":1.5,"interpolate":"monotone"}}
 ]},
 {"mark":{"type":"rule","color":"#e2e2e2","strokeWidth":1},"encoding":{"x":{"value":0},"x2":{"value":968},"y":{"value":130}}},
 {"data":{"name":"months"},"mark":{"type":"rule","color":"#dddddd","strokeWidth":1},"encoding":{"x":{"field":"i","type":"quantitative","scale":{"domain":[-1,187.93],"nice":false,"zero":false,"padding":0},"axis":null},"y":{"value":130},"y2":{"value":135}}},
 {"data":{"name":"months"},"mark":{"type":"text","align":"left","baseline":"middle","fontSize":18.5,"dx":5},"encoding":{"x":{"field":"i","type":"quantitative","scale":{"domain":[-1,187.93],"nice":false,"zero":false,"padding":0},"axis":null},"y":{"value":153},"text":{"field":"t"},"color":{"condition":{"test":"datum.t==='2024'","value":"#111111"},"value":"#666666"}}},
 {"mark":{"type":"rule","color":"#a6a6a6","strokeWidth":2},"encoding":{"x":{"value":0},"x2":{"value":1078},"y":{"value":1}}},
 {"mark":{"type":"point","shape":"square","size":420,"color":"#d0d0d0","strokeWidth":1.5,"opacity":1,"x":21,"y":148}},
 {"mark":{"type":"text","align":"center","baseline":"middle","fontSize":20,"color":"#cfcfcf","x":21,"y":147,"text":"«","font":"DejaVu Sans"}},
 {"mark":{"type":"point","shape":"square","size":420,"color":"#d0d0d0","strokeWidth":1.5,"opacity":1,"x":1063,"y":148}},
 {"mark":{"type":"text","align":"center","baseline":"middle","fontSize":20,"color":"#cfcfcf","x":1063,"y":147,"text":"»","font":"DejaVu Sans"}},
 {"mark":{"type":"text","align":"left","baseline":"middle","fontSize":18.5,"color":"#666666","x":15,"y":19,"text":"VOL(5,10)"}},
 {"mark":{"type":"text","align":"left","baseline":"middle","fontSize":19,"color":"#666666","x":110,"y":19,"text":"VOLUME:116903.160"}},
 {"mark":{"type":"text","align":"left","baseline":"middle","fontSize":17,"color":"#555555","x":297,"y":19,"text":"↑","font":"DejaVu Sans"}},
 {"mark":{"type":"text","align":"left","baseline":"middle","fontSize":19,"color":"#d655d6","x":318,"y":19,"text":"MAVOL1:95102.136"}},
 {"mark":{"type":"text","align":"left","baseline":"middle","fontSize":17,"color":"#d655d6","x":492,"y":19,"text":"↓","font":"DejaVu Sans"}},
 {"mark":{"type":"text","align":"left","baseline":"middle","fontSize":19,"color":"#aaaaaa","x":514,"y":19,"text":"MAVOL2:95577.497"}},
 {"mark":{"type":"text","align":"left","baseline":"middle","fontSize":17,"color":"#aaaaaa","x":691,"y":19,"text":"↑","font":"DejaVu Sans"}},
 {"mark":{"type":"text","align":"left","baseline":"middle","fontSize":18,"color":"#666666","x":787,"y":19,"text":"加指标"}},
 {"mark":{"type":"text","align":"left","baseline":"middle","fontSize":18,"color":"#666666","x":849,"y":19,"text":"换指标"}},
 {"mark":{"type":"text","align":"center","baseline":"middle","fontSize":23,"color":"#6c7580","x":921,"y":19,"text":"⚙","font":"DejaVu Sans"}},
 {"mark":{"type":"point","filled":true,"opacity":1,"color":"#6c7580","shape":"circle","size":270,"x":949,"y":19}},
 {"mark":{"type":"text","align":"center","baseline":"middle","fontSize":15,"fontWeight":"bold","color":"#f4f4f4","x":949,"y":19,"text":"×","font":"DejaVu Sans"}},
 {"mark":{"type":"text","align":"right","baseline":"middle","fontSize":18,"color":"#666666","x":1072,"y":35,"text":"23.4万"}},
 {"mark":{"type":"text","align":"right","baseline":"middle","fontSize":18,"color":"#666666","x":1072,"y":81,"text":"11.7万"}},
 {"mark":{"type":"text","align":"right","baseline":"middle","fontSize":18,"color":"#666666","x":1072,"y":113,"text":"0.00"}}
]}
]}
